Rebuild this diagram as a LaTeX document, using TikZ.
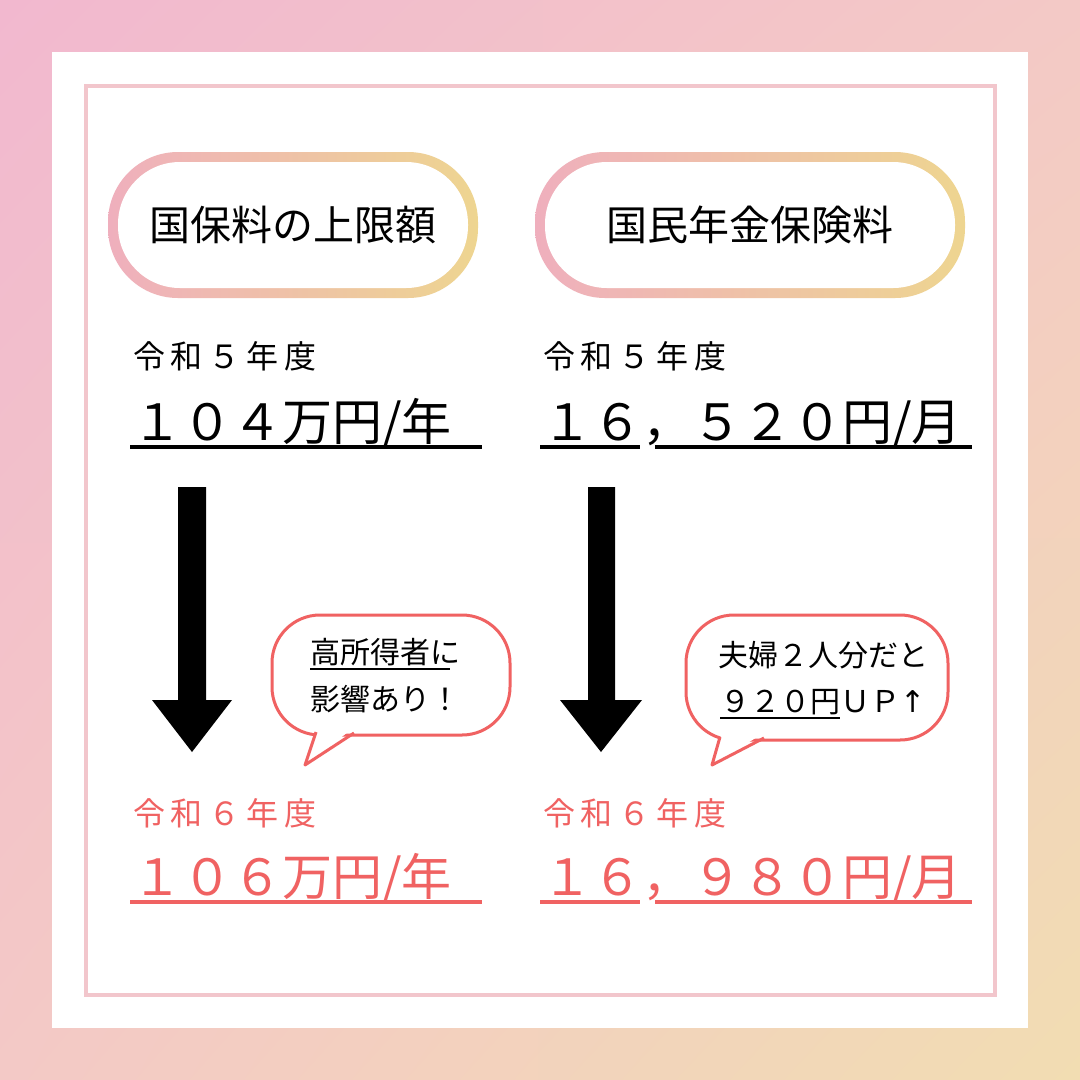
\documentclass[tikz,border=0pt]{standalone}
\usepackage{fontspec}
\usetikzlibrary{shadings}
\setmainfont{Noto Sans CJK JP}
\newfontfamily\spaced[LetterSpace=18]{Noto Sans CJK JP}
\newfontfamily\djv{DejaVu Sans}
\definecolor{bgA}{HTML}{F2B8CF}
\definecolor{bgB}{HTML}{F2DDB2}
\definecolor{bgC}{HTML}{F3C9C6}
\definecolor{frame}{HTML}{F2C6CC}
\definecolor{pillA}{HTML}{EFAFBD}
\definecolor{pillB}{HTML}{EED590}
\definecolor{redt}{HTML}{F06262}
\tikzset{
  small/.style={anchor=base west,inner sep=0pt,font=\spaced\fontsize{32}{32}\selectfont},
  big/.style={anchor=base west,inner sep=0pt,font=\fontsize{50}{50}\selectfont},
  pilltext/.style={inner sep=0pt,font=\fontsize{41}{41}\selectfont},
  btext/.style={anchor=base west,inner sep=0pt,font=\fontsize{30}{30}\selectfont},
  uline/.style={line width=3.5pt},
  bubble/.style={draw=redt,line width=3pt,fill=white,rounded corners=48pt},
  arrowshape/.style={fill=black}
}
\begin{document}
\begin{tikzpicture}[x=1pt,y=-1pt]
\useasboundingbox (0,0) rectangle (1080,1080);
\shade[upper left=bgA,upper right=bgC,lower left=bgC,lower right=bgB] (0,0) rectangle (1080,1080);
\fill[white] (52,52) rectangle (1028,1028);
\draw[frame,line width=4pt] (86,86) rectangle (995,995);
% pills
\shade[left color=pillA,right color=pillB,rounded corners=70pt] (108,152) rectangle (478,298);
\fill[white,rounded corners=62pt] (118,162) rectangle (468,288);
\node[pilltext] (p1) at (293,225) {国保料の上限額};
\shade[left color=pillA,right color=pillB,rounded corners=70pt] (535,152) rectangle (965,298);
\fill[white,rounded corners=62pt] (545,162) rectangle (955,288);
\node[pilltext] (p2) at (750,225) {国民年金保険料};
% before
\node[small] (l1) at (133,368) {令和５年度};
\node[big] (v1) at (132,440) {１０４万円/年};
\draw[uline] (130,447) -- (482,447);
\node[small] (r1) at (543,368) {令和５年度};
\node[big] (v2) at (542,440) {１６，５２０円/月};
\draw[uline] (540,447) -- (640,447) (655,447) -- (972,447);
% arrows
\fill[arrowshape] (178,487) -- (206,487) -- (206,700) -- (232,700) -- (192,752) -- (152,700) -- (178,700) -- cycle;
\fill[arrowshape] (588,487) -- (615,487) -- (615,700) -- (642,700) -- (601,752) -- (560,700) -- (588,700) -- cycle;
% bubbles
\draw[bubble] (272,615) rectangle (510,735);
\fill[white] (318,728) -- (305,765) -- (352,729) -- cycle;
\draw[redt,line width=3pt,line join=round] (316,732) -- (305,765) -- (354,733);
\node[btext] (b1a) at (310,663) {高所得者に};
\draw[line width=2pt] (310,669) -- (450,669);
\node[btext] (b1b) at (310,710) {影響あり！};
\draw[bubble] (686,615) rectangle (948,740);
\fill[white] (722,733) -- (712,765) -- (762,734) -- cycle;
\draw[redt,line width=3pt,line join=round] (720,737) -- (712,765) -- (764,738);
\node[btext] (b2a) at (718,666) {夫婦２人分だと};
\node[btext] (b2b) at (720,712) {９２０円ＵＰ{\djv ↑}};
\draw[line width=2pt] (720,718) -- (840,718);
% after
\node[small,text=redt] (l2) at (133,825) {令和６年度};
\node[big,text=redt] (v3) at (132,895) {１０６万円/年};
\draw[uline,redt] (130,902) -- (482,902);
\node[small,text=redt] (r2) at (543,825) {令和６年度};
\node[big,text=redt] (v4) at (542,895) {１６，９８０円/月};
\draw[uline,redt] (540,902) -- (640,902) (655,902) -- (972,902);
\end{tikzpicture}
\end{document}
